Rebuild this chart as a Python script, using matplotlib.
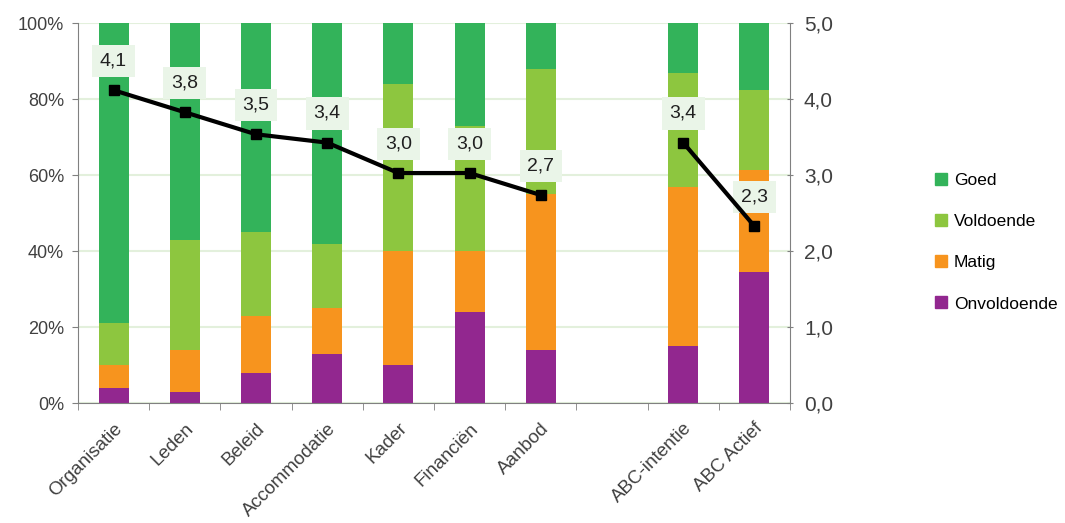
import numpy as np
import matplotlib
matplotlib.use("Agg")
import matplotlib.pyplot as plt
from matplotlib.lines import Line2D
from matplotlib.ticker import FuncFormatter

plt.rcParams['font.family'] = ['Liberation Sans', 'DejaVu Sans']
plt.rcParams['font.size'] = 12

# data (the empty slot between Aanbod and ABC-intentie is kept as a blank category)
categories = ["Organisatie", "Leden", "Beleid", "Accommodatie", "Kader",
              "Financiën", "Aanbod", "", "ABC-intentie", "ABC Actief"]
onvoldoende = [4, 3, 8, 13, 10, 24, 14, 0, 15, 34.5]
matig = [6, 11, 15, 12, 30, 16, 41, 0, 42, 27]
voldoende = [11, 29, 22, 17, 44, 33, 33, 0, 30, 21]
goed = [79, 57, 55, 58, 16, 27, 12, 0, 13, 17.5]
score = [4.12, 3.83, 3.54, 3.43, 3.03, 3.03, 2.74, np.nan, 3.43, 2.33]

series = [("Onvoldoende", onvoldoende, "#92278F"),
          ("Matig", matig, "#F7941E"),
          ("Voldoende", voldoende, "#8DC63F"),
          ("Goed", goed, "#33B35A")]


def main():
    fig = plt.figure(figsize=(10.65, 5.23), dpi=100)
    ax = fig.add_axes([0.0732, 0.2289, 0.6686, 0.7265])
    x = np.arange(len(categories))

    bottom = np.zeros(len(categories))
    for name, vals, col in series:
        vals = np.array(vals, dtype=float)
        ax.bar(x, vals, 0.42, bottom=bottom, color=col, zorder=2)
        bottom += vals

    ax.set_xlim(-0.5, len(categories) - 0.5)
    ax.set_ylim(0, 100)
    ax.set_yticks(np.arange(0, 101, 20))
    ax.yaxis.set_major_formatter(FuncFormatter(lambda v, p: f"{int(v)}%"))
    ax.yaxis.grid(True, color="#E3F0DC", linewidth=1.5, zorder=0)
    ax.set_axisbelow(True)

    ax.set_xticks(x)
    ax.set_xticklabels(categories, rotation=45, ha="right",
                       rotation_mode="anchor", color="#404040", fontsize=13.5)
    ax.tick_params(axis="x", which="major", length=0, pad=12)
    ax.set_xticks(np.arange(-0.5, len(categories)), minor=True)
    ax.tick_params(axis="x", which="minor", length=5, color="#808080")
    ax.tick_params(axis="y", length=4, color="#808080", labelcolor="#404040",
                   labelsize=13, pad=6)

    for side in ["top", "right"]:
        ax.spines[side].set_visible(False)
    for side in ["left", "bottom"]:
        ax.spines[side].set_color("#808080")

    ax2 = ax.twinx()
    ax2.set_ylim(0, 5)
    ax2.set_yticks(np.arange(0, 5.1, 1))
    ax2.yaxis.set_major_formatter(FuncFormatter(lambda v, p: f"{v:.1f}".replace(".", ",")))
    ax2.tick_params(axis="y", length=4, direction="inout", color="#808080",
                    labelcolor="#404040", labelsize=15, pad=8)
    for side in ["top", "left", "bottom"]:
        ax2.spines[side].set_visible(False)
    ax2.spines["right"].set_color("#808080")

    ax2.plot(x, score, color="black", linewidth=3, marker="s", markersize=7, zorder=5)
    for xi, s in zip(x, score):
        if np.isnan(s):
            continue
        ax2.annotate(f"{s:.1f}".replace(".", ","), (xi, s), xytext=(0, 21),
                     textcoords="offset points", ha="center", va="center",
                     fontsize=14, color="#202020",
                     bbox=dict(boxstyle="square,pad=0.4", fc="#EAF5E8", ec="none"))

    handles = [Line2D([], [], marker="s", linestyle="none", markersize=8,
                      color=col) for name, vals, col in reversed(series)]
    labels = [name for name, vals, col in reversed(series)]
    fig.legend(handles, labels, loc="center left", bbox_to_anchor=(0.863, 0.537),
               frameon=False, handlelength=0.7, handletextpad=0.4,
               labelspacing=1.5, fontsize=12.5)

    fig.savefig("out.png", dpi=100)


if __name__ == "__main__":
    main()
